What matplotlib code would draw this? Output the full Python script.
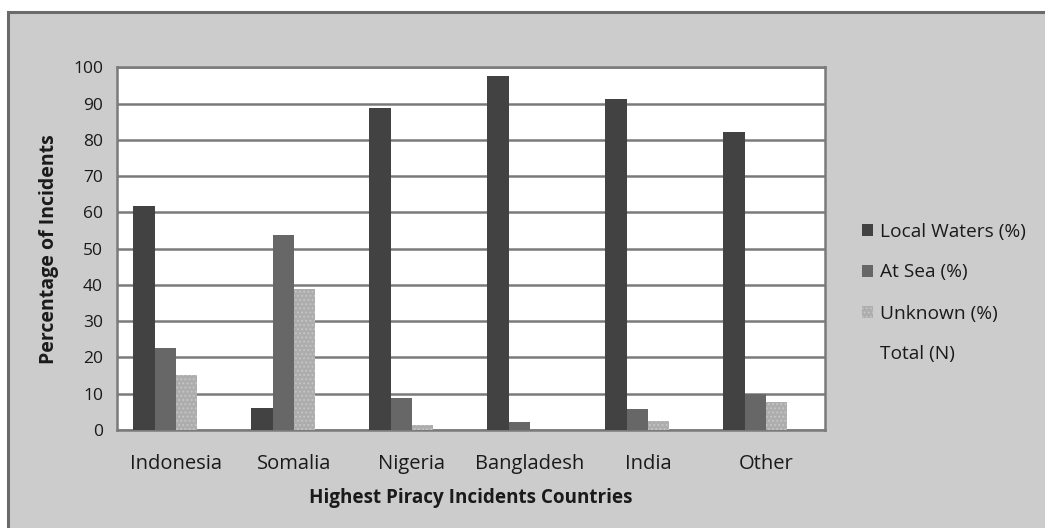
import matplotlib.pyplot as plt
import matplotlib.patches as mpatches
import numpy as np

plt.rcParams['font.family'] = ['Open Sans', 'DejaVu Sans']
plt.rcParams['hatch.linewidth'] = 0.8

countries = ['Indonesia', 'Somalia', 'Nigeria', 'Bangladesh', 'India', 'Other']
local_waters = [61.8, 6.1, 88.9, 97.7, 91.2, 82.2]
at_sea = [22.5, 53.9, 8.8, 2.1, 5.8, 9.8]
unknown = [15.2, 38.8, 1.4, 0.0, 2.5, 7.8]
series_names = ['Local Waters (%)', 'At Sea (%)', 'Unknown (%)', 'Total (N)']

fig = plt.figure(figsize=(10.45, 5.28), dpi=100, facecolor='white')

# grey chart area with a dark frame on the top and left
frame = mpatches.Rectangle((8 / 1045, -0.01), 1.02, 1 - 12 / 528 + 0.01,
                           transform=fig.transFigure, facecolor='#cccccc',
                           edgecolor='#6a6a6a', linewidth=2.2, zorder=-5)
fig.patches.append(frame)

ax = fig.add_axes([117 / 1045, 1 - 430 / 528, 708 / 1045, (430 - 67.3) / 528])
ax.set_zorder(2)
ax.set_facecolor('white')

x = np.arange(len(countries))
w = 1 / 5.5
ax.bar(x - 1.5 * w, local_waters, w, color='#424242', linewidth=0, zorder=3)
ax.bar(x - 0.5 * w, at_sea, w, color='#676767', linewidth=0, zorder=3)
ax.bar(x + 0.5 * w, unknown, w, color='#adadad', edgecolor='#c6c6c6',
       hatch='....', linewidth=0, zorder=3)

ax.set_xlim(-0.5, len(countries) - 0.5)
ax.set_ylim(0, 100)
ax.set_yticks(range(0, 101, 10))
ax.set_xticks(x)
ax.set_xticklabels(countries)
ax.yaxis.grid(True, color='#7a7a7a', linewidth=1.8, zorder=1)
ax.tick_params(axis='both', length=0, colors='#1a1a1a')
ax.tick_params(axis='x', pad=17, labelsize=14.5)
ax.tick_params(axis='y', pad=10, labelsize=12.5)
for s in ax.spines.values():
    s.set_color('#7a7a7a')
    s.set_linewidth(1.8)

ax.set_ylabel('Percentage of Incidents', fontsize=14, fontweight='bold',
              color='#1a1a1a', labelpad=10)
ax.set_xlabel('Highest Piracy Incidents Countries', fontsize=13.6,
              fontweight='bold', color='#1a1a1a', labelpad=10)

handles = [
    mpatches.Patch(facecolor='#424242'),
    mpatches.Patch(facecolor='#676767'),
    mpatches.Patch(facecolor='#adadad', edgecolor='#c6c6c6', hatch='....', linewidth=0),
    mpatches.Patch(facecolor='none', edgecolor='none'),
]
leg = fig.legend(handles, series_names, loc='center left',
                 bbox_to_anchor=(845 / 1045, 1 - 293 / 528), frameon=False,
                 fontsize=13.8, handlelength=0.55, handleheight=0.6,
                 handletextpad=0.35, labelspacing=1.2)
for t in leg.get_texts():
    t.set_color('#1a1a1a')

fig.savefig('out.png', dpi=100, facecolor='white')
